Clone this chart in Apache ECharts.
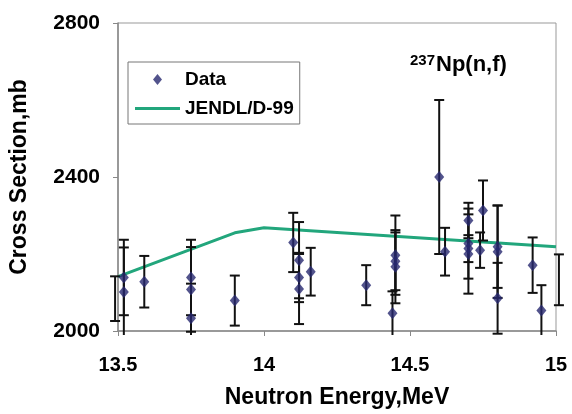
<!DOCTYPE html>
<html>
<head>
<meta charset="utf-8">
<style>
  html, body { margin: 0; padding: 0; background: #fff; }
  #chart { width: 572px; height: 414px; }
</style>
<script src="https://cdn.jsdelivr.net/npm/echarts@6/dist/echarts.min.js"></script>
</head>
<body>
<div id="chart"></div>
<script>
// Measured 237Np(n,f) cross sections: neutron energy (MeV), value (mb), uncertainty (mb)
const energy = [13.52, 13.52, 13.59, 13.75, 13.75, 13.75, 13.90, 14.10, 14.12, 14.12,
                14.12, 14.16, 14.35, 14.45, 14.45, 14.45, 14.44, 14.60, 14.62, 14.70,
                14.70, 14.70, 14.70, 14.75, 14.74, 14.80, 14.80, 14.80, 14.92, 14.95];
const crossSection = [2139, 2101, 2128, 2139, 2108, 2033, 2079, 2230, 2184, 2139,
                      2109, 2154, 2119, 2197, 2181, 2167, 2046, 2400, 2206, 2287,
                      2227, 2214, 2200, 2313, 2210, 2219, 2206, 2085, 2171, 2053];
const uncertainty = [98, 116, 67, 98, 110, 90, 65, 77, 99, 64,
                     91, 62, 52, 103, 75, 95, 57, 200, 62, 46,
                     91, 35, 103, 78, 46, 107, 120, 92, 72, 66];

// Points just outside the energy window: only their error bars reach the frame
const edgeEnergy = [13.49, 15.01];
const edgeValue = [2084, 2133];
const edgeUncertainty = [58, 66];

// JENDL/D-99 evaluation
const evalEnergy = [13.5, 13.9, 14.0, 15.0];
const evalValue = [2141, 2255, 2268, 2219];

// Axis ticks
const xTicks = [13.5, 14, 14.5, 15];
const yTicks = [2000, 2400, 2800];

const FONT = '"Liberation Sans", Arial, sans-serif';

const pointRows = energy.map((e, i) => [e, crossSection[i], uncertainty[i]]);
const barRows = pointRows.concat(edgeEnergy.map((e, i) => [e, edgeValue[i], edgeUncertainty[i]]));
const evalRows = evalEnergy.map((e, i) => [e, evalValue[i]]);

// Legend glyphs padded to the full 45x11 key box
const DIAMOND_KEY = 'path://M0,0L0,0M22.5,0L27,5.5L22.5,11L18,5.5ZM45,11L45,11';
const LINE_KEY = 'path://M0,0L0,0M0,4L45,4L45,7L0,7ZM45,11L45,11';

function renderErrorBar(params, api) {
  const e = api.value(0), v = api.value(1), d = api.value(2);
  const top = api.coord([e, v + d]);
  const bot = api.coord([e, v - d]);
  const x = top[0];
  const floor = params.coordSys.y + params.coordSys.height + 4;
  const yLow = Math.min(bot[1], floor);
  const half = 5;
  const style = { stroke: '#111', lineWidth: 2 };
  const children = [
    { type: 'line', shape: { x1: x, y1: top[1], x2: x, y2: yLow }, style },
    { type: 'line', shape: { x1: x - half, y1: top[1], x2: x + half, y2: top[1] }, style }
  ];
  if (bot[1] <= floor) {
    children.push({ type: 'line', shape: { x1: x - half, y1: bot[1], x2: x + half, y2: bot[1] }, style });
  }
  return { type: 'group', children };
}

const chart = echarts.init(document.getElementById('chart'), null, { renderer: 'canvas' });
chart.setOption({
  animation: false,
  backgroundColor: '#fff',
  grid: {
    left: 113, right: 16, top: 23, bottom: 81,
    show: true, borderColor: '#999', borderWidth: 1, backgroundColor: 'transparent'
  },
  xAxis: {
    type: 'value',
    min: xTicks[0], max: xTicks[xTicks.length - 1], interval: 0.5,
    name: 'Neutron Energy,MeV',
    nameLocation: 'middle', nameGap: 55,
    nameTextStyle: { fontFamily: FONT, fontWeight: 'bold', fontSize: 23, color: '#000' },
    axisLine: { lineStyle: { color: '#888', width: 1.5 } },
    axisTick: { show: true, length: 5, lineStyle: { color: '#888' } },
    axisLabel: {
      margin: 24, fontFamily: FONT, fontWeight: 'bold', fontSize: 20, color: '#000',
      formatter: v => xTicks.indexOf(v) >= 0 ? String(v) : ''
    },
    splitLine: { show: false }
  },
  yAxis: {
    type: 'value',
    min: yTicks[0], max: yTicks[yTicks.length - 1], interval: 400,
    name: 'Cross Section,mb',
    nameLocation: 'middle', nameGap: 87,
    nameTextStyle: { fontFamily: FONT, fontWeight: 'bold', fontSize: 23, color: '#000' },
    axisLine: { show: true, lineStyle: { color: '#888', width: 1.5 } },
    axisTick: { show: true, length: 5, lineStyle: { color: '#888' } },
    axisLabel: {
      margin: 18, fontFamily: FONT, fontWeight: 'bold', fontSize: 21, color: '#000',
      formatter: v => String(v)
    },
    splitLine: { show: false }
  },
  legend: {
    left: 128, top: 62,
    orient: 'vertical',
    padding: [8, 6, 6, 7],
    itemGap: 10,
    itemWidth: 45, itemHeight: 11,
    borderColor: '#777', borderWidth: 1,
    backgroundColor: '#fff',
    textStyle: { fontFamily: FONT, fontWeight: 'bold', fontSize: 19, color: '#000' },
    data: [
      { name: 'Data', icon: DIAMOND_KEY },
      { name: 'JENDL/D-99', icon: LINE_KEY }
    ]
  },
  graphic: [{
    type: 'text',
    left: 410, top: 53,
    style: {
      rich: {
        sup: { fontFamily: FONT, fontWeight: 'bold', fontSize: 15, color: '#000', verticalAlign: 'top', padding: [0, 1, 9, 0] },
        main: { fontFamily: FONT, fontWeight: 'bold', fontSize: 22, color: '#000' }
      },
      text: '{sup|237}{main|Np(n,f)}'
    }
  }],
  series: [
    {
      name: 'JENDL/D-99',
      type: 'line',
      data: evalRows,
      symbol: 'none',
      lineStyle: { color: '#22a67c', width: 3 },
      itemStyle: { color: '#22a67c' },
      z: 2
    },
    {
      name: 'errors',
      type: 'custom',
      data: barRows,
      renderItem: renderErrorBar,
      clip: false,
      encode: { x: 0, y: 1 },
      silent: true,
      z: 3
    },
    {
      name: 'Data',
      type: 'scatter',
      data: pointRows,
      symbol: 'diamond',
      symbolSize: [10, 12],
      itemStyle: { color: '#27286f' },
      z: 4
    }
  ]
});
</script>
</body>
</html>
